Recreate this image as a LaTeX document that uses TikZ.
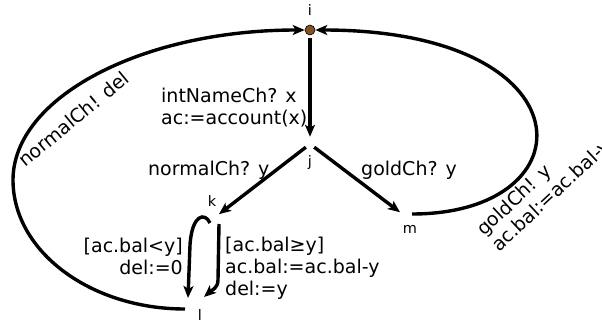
\documentclass[tikz,border=0pt]{standalone}
\usepackage{fontspec}
\setmainfont{DejaVu Sans}
\usetikzlibrary{arrows.meta}
\definecolor{statebrown}{RGB}{128,82,36}
\begin{document}
\begin{tikzpicture}[x=1pt,y=-1pt,
  conn/.style={line width=3.4pt, -{Stealth[length=12pt,width=10pt,inset=3pt]}},
  st/.style={inner sep=0pt, minimum size=0pt},
  init/.style={circle, draw=black, line width=0.6pt, fill=statebrown, minimum size=10pt, inner sep=0pt},
  txt/.style={font=\fontsize{19}{22}\selectfont, inner sep=0pt},
  statelabel/.style={font=\fontsize{14.5}{17}\selectfont, inner sep=0pt, anchor=base},
]
\useasboundingbox (0,0) rectangle (602,324);
% states
\node[init] (i) at (310,30) {};
\node[st] (j) at (310,144) {};
\node[st] (k) at (214,218) {};
\node[st] (m) at (405,216) {};
\node[st] (l) at (198,302) {};
% state names
\node[statelabel] at (310,16) {i};
\node[statelabel] at (310,166) {j};
\node[statelabel] at (212,206) {k};
\node[statelabel] at (410,233) {m};
\node[statelabel] at (200,320) {l};
% connectors
\draw[conn, shorten <=3pt, shorten >=7pt] (i) -- (j);
\draw[conn, shorten <=5pt, shorten >=6pt] (j) -- (k);
\draw[conn, shorten <=5pt, shorten >=6pt] (j) -- (m);
\draw[conn] ([xshift=-4pt,yshift=-5pt]k.center) .. controls (205,212) and (192,214) .. (190,245) -- ([xshift=-10pt,yshift=4pt]l.center);
\draw[conn] ([xshift=5pt,yshift=-6pt]k.center) -- (218,280) .. controls (218,288) and (212,290) .. ([xshift=6pt,yshift=5pt]l.center);
\draw[conn] ([xshift=-13pt,yshift=-7pt]l.center) .. controls (90,309) and (13,251) .. (13,180) .. controls (13,98) and (141,30) .. (i);
\draw[conn] ([xshift=7pt,yshift=2pt]m.center) .. controls (591,214) and (591,30) .. (i);
% labels (base anchor of a multi-line node = baseline of its last line)
\node[txt, anchor=base west, align=left] at (161,124) {intNameCh? x\\ac:=account(x)};
\node[txt, anchor=base west] at (148,175) {normalCh? y};
\node[txt, anchor=base west] at (361,175) {goldCh? y};
\node[txt, anchor=base east, align=right] at (183,274) {[ac.bal<y]\\del:=0};
\node[txt, anchor=base west, align=left] at (225,295) {[ac.bal≥y]\\ac.bal:=ac.bal-y\\del:=y};
\node[txt, anchor=base west, rotate=39.5] at (25,168) {normalCh! del};
\node[txt, anchor=base west, align=left, rotate=43] at (499,253) {goldCh! y\\ac.bal:=ac.bal-y};
\end{tikzpicture}
\end{document}
